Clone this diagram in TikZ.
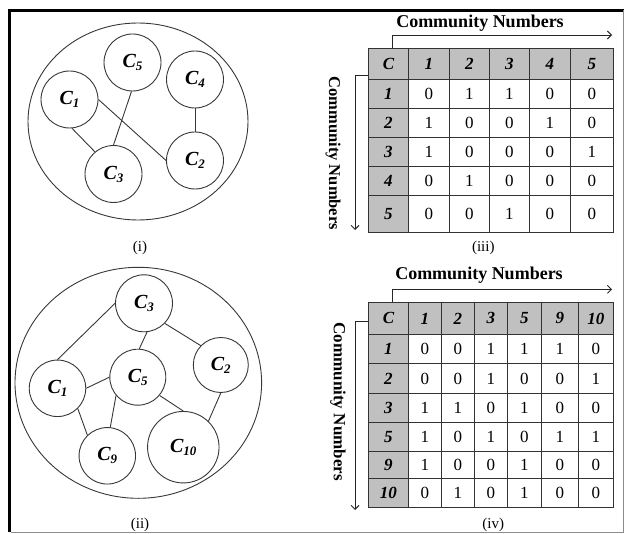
\documentclass[tikz,border=0pt]{standalone}
\usepackage{fontspec}
\setmainfont{Liberation Serif}
\usetikzlibrary{arrows.meta}
\definecolor{cellgray}{RGB}{192,192,192}
\definecolor{linegray}{RGB}{55,55,55}
\newcommand\csub[2]{#1\raisebox{-0.32ex}{\fontsize{13}{13}\selectfont #2}}
\begin{document}
\begin{tikzpicture}[x=1pt,y=-1pt,
  comm/.style={circle,draw=linegray,line width=0.9pt,inner sep=0,minimum size=57pt,
    font=\fontsize{20}{20}\selectfont\bfseries\itshape},
  edge/.style={draw=linegray,line width=0.9pt},
  hdr/.style={draw=black!80,fill=cellgray,line width=0.9pt,inner sep=0,anchor=north west,
    font=\fontsize{17}{17}\selectfont\bfseries\itshape},
  dat/.style={draw=black!80,fill=white,line width=0.9pt,inner sep=0,anchor=north west,
    font=\fontsize{17}{17}\selectfont},
  axis/.style={draw=black!85,line width=0.9pt,-{Straight Barb[length=4pt,width=8pt]}},
  ttl/.style={font=\fontsize{18}{18}\selectfont\bfseries,inner sep=0},
  vttl/.style={font=\fontsize{16.5}{16.5}\selectfont\bfseries,inner sep=0,rotate=-90},
  captxt/.style={font=\fontsize{15}{15}\selectfont,inner sep=0}
]
\useasboundingbox (0,0) rectangle (626,534);
% frame
\draw[line width=3pt] (9.5,532) -- (9.5,10.5) -- (624,10.5);
\draw[black!45,line width=1pt] (623,10.5) -- (623,532) -- (11,532);

% ---------- (i)
\draw[edge] (138,121.5) ellipse [x radius=110, y radius=98.5];
\node[comm] (a5) at (132.5,62.5) {\csub{C}{5}};
\node[comm] (a4) at (195,79.5) {\csub{C}{4}};
\node[comm] (a1) at (69.5,99.5) {\csub{C}{1}};
\node[comm] (a3) at (113.5,174) {\csub{C}{3}};
\node[comm] (a2) at (195,160.5) {\csub{C}{2}};
\draw[edge] (a1.-85) -- (a3.130);
\draw[edge] (a5.-92) -- (a3.90);
\draw[edge] (a1.east) -- (a2.west);
\draw[edge] (a4.south) -- (a2.north);
\node[captxt] (capi) at (140,248) {(i)};

% ---------- (ii)
\draw[edge] (138.3,382.8) ellipse [x radius=123.3, y radius=115.5];
\node[comm] (b3) at (144,303.3) {\csub{C}{3}};
\node[comm,minimum size=55pt] (b2) at (220.8,365) {\csub{C}{2}};
\node[comm,minimum size=56pt] (b5) at (137.8,377.2) {\csub{C}{5}};
\node[comm,minimum size=56.5pt] (b1) at (57.5,388.3) {\csub{C}{1}};
\node[comm,minimum size=56.5pt] (b9) at (107.3,455.8) {\csub{C}{9}};
\node[comm,minimum size=71.5pt] (b10) at (183.3,447.2) {\csub{C}{10}};
\draw[edge] (b3.west) -- (b1.north);
\draw[edge] (b3.-84) -- (b5.87);
\draw[edge] (b3.-44) -- (b2.136);
\draw[edge] (b1.east) -- (b5.west);
\draw[edge] (b1.-45) -- (b9.134);
\draw[edge] (b5.-140) -- (b9.84);
\draw[edge] (b5.-40) -- (b10.north);
\draw[edge] (b2.south) -- (b10.46);
\node[captxt] (capii) at (140,525) {(ii)};

% ---------- (iii)
\def\XA{{368,408,449,489,529,570,613}}
\foreach \yt/\yb/\lab/\vals [count=\r from 0] in
  {48/79/C/{1,2,3,4,5},
   79/108/1/{0,1,1,0,0},
   108/137/2/{1,0,0,1,0},
   137/166/3/{1,0,0,0,1},
   166/195/4/{0,1,0,0,0},
   195/232/5/{0,0,1,0,0}}{
  \pgfmathsetmacro\hh{\yb-\yt}
  \pgfmathsetmacro\ww{\XA[1]-\XA[0]}
  \node[hdr,minimum width=\ww pt,minimum height=\hh pt] (tA-\r-0) at (368,\yt) {\lab};
  \ifnum\r=0 \def\st{hdr}\else\def\st{dat}\fi
  \foreach \v [count=\c] in \vals {
    \pgfmathsetmacro\xl{\XA[\c]}
    \pgfmathsetmacro\ww{\XA[\c+1]-\XA[\c]}
    \node[\st,minimum width=\ww pt,minimum height=\hh pt] (tA-\r-\c) at (\xl,\yt) {\v};
  }
}
\node[ttl,anchor=base] (ttlA) at (480,28) {Community Numbers};
\node[vttl] (vttlA) at (333,153.3) {Community Numbers};
\coordinate (pA1) at (392,48);
\coordinate (pA2) at (392,35);
\coordinate (pA3) at (612,35);
\draw[axis] (pA1) -- (pA2) -- (pA3);
\coordinate (qA1) at (368,75);
\coordinate (qA2) at (355,75);
\coordinate (qA3) at (355,230);
\draw[axis] (qA1) -- (qA2) -- (qA3);
\node[captxt] (capiii) at (483.3,248.3) {(iii)};

% ---------- (iv)
\def\XB{{368,408,441,474,507,541,578,613}}
\foreach \yt/\yb/\lab/\vals [count=\r from 0] in
  {302/334/C/{1,2,3,5,9,10},
   334/363/1/{0,0,1,1,1,0},
   363/393/2/{0,0,1,0,0,1},
   393/422/3/{1,1,0,1,0,0},
   422/451/5/{1,0,1,0,1,1},
   451/478/9/{1,0,0,1,0,0},
   478/507/10/{0,1,0,1,0,0}}{
  \pgfmathsetmacro\hh{\yb-\yt}
  \pgfmathsetmacro\ww{\XB[1]-\XB[0]}
  \node[hdr,minimum width=\ww pt,minimum height=\hh pt] (tB-\r-0) at (368,\yt) {\lab};
  \ifnum\r=0 \def\st{hdr}\else\def\st{dat}\fi
  \foreach \v [count=\c] in \vals {
    \pgfmathsetmacro\xl{\XB[\c]}
    \pgfmathsetmacro\ww{\XB[\c+1]-\XB[\c]}
    \node[\st,minimum width=\ww pt,minimum height=\hh pt] (tB-\r-\c) at (\xl,\yt) {\v};
  }
}
\node[ttl,anchor=base] (ttlB) at (479,280) {Community Numbers};
\node[vttl,font=\fontsize{17}{17}\selectfont\bfseries] (vttlB) at (338,401.7) {Community Numbers};
\coordinate (pB1) at (392.7,302);
\coordinate (pB2) at (392.7,289.3);
\coordinate (pB3) at (612,289.3);
\draw[axis] (pB1) -- (pB2) -- (pB3);
\coordinate (qB1) at (368,321.7);
\coordinate (qB2) at (355,321.7);
\coordinate (qB3) at (355,510);
\draw[axis] (qB1) -- (qB2) -- (qB3);
\node[captxt] (capiv) at (493.3,525) {(iv)};
\end{tikzpicture}
\end{document}
